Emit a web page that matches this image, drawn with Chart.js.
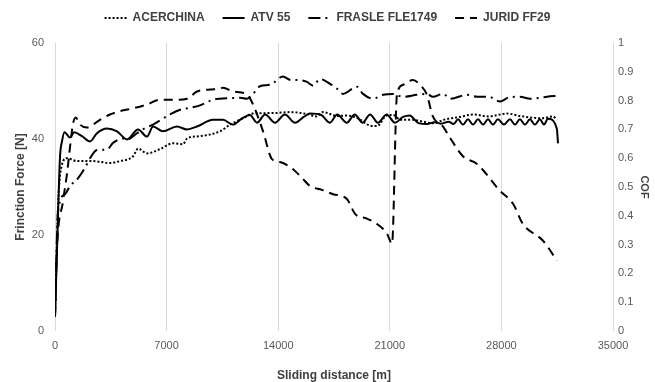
<!DOCTYPE html>
<html>
<head>
<meta charset="utf-8">
<script src="https://cdn.jsdelivr.net/npm/chart.js@4.4.1/dist/chart.umd.min.js"></script>
<style>
html, body { margin: 0; padding: 0; background: #fff; }
</style>
</head>
<body>
<canvas id="graficoAtrito" width="655" height="382"></canvas>
<script>
// eixos
const distTicks = [0, 7000, 14000, 21000, 28000, 35000];
const forceTicks = [0, 20, 40, 60];
const cofTicks = [0, 0.1, 0.2, 0.3, 0.4, 0.5, 0.6, 0.7, 0.8, 0.9, 1];

// series (distancia [m] / forca [N])
const acerchinaDist = [0, 200, 440, 750, 1380, 2380, 3450, 4080, 4900, 5210, 5770, 6590, 7400, 8030, 8280, 9090, 10350, 10980, 11790, 12420, 13670, 14740, 15800, 16400, 16800, 17700, 18300, 19000, 19760, 20200, 20800, 21200, 21700, 22450, 23100, 23700, 24500, 25400, 26220, 27200, 28350, 29160, 29800, 30500, 31240, 31480];
const acerchinaForce = [3, 26.5, 34.7, 36, 35.4, 35.4, 35, 35.4, 36.4, 38, 37, 37.9, 39.1, 38.9, 40.1, 40.6, 41.6, 43, 44.3, 45.3, 45.4, 45.6, 45.2, 44.7, 45.6, 44.8, 44.9, 44.3, 42.8, 42.7, 44.9, 45, 44, 44, 43.6, 43.3, 44.1, 44.6, 45.1, 44.7, 45.3, 44.8, 44.5, 44.3, 44.7, 44];

const atvDist = [0, 100, 310, 440, 600, 940, 1200, 1690, 2200, 2630, 3260, 3890, 4520, 5210, 5770, 6150, 6770, 7650, 8280, 8900, 9910, 10540, 11160, 11730, 12230, 12670, 13180, 13800, 14420, 15050, 15600, 16000, 16700, 17250, 17700, 18300, 18800, 19300, 19760, 20260, 20800, 21330, 21830, 22240, 22800, 23330, 23800, 24200, 24700, 25000, 25280, 25590, 25900, 26220, 26530, 26850, 27160, 27470, 27780, 28160, 28540, 28850, 29160, 29480, 29790, 30100, 30420, 30670, 30920, 31480, 31550];
const atvForce = [3, 14, 36, 39.5, 41.4, 40.3, 41.4, 40.6, 39.5, 41.2, 42.2, 41.6, 39.9, 42, 40.5, 42.6, 41.6, 42.6, 42, 42.6, 44, 44, 43, 44.3, 45, 43.4, 45.1, 43.4, 45.1, 43.4, 44.6, 45.3, 45, 43.4, 45.1, 43.4, 45.1, 43.4, 45.1, 43.4, 45.1, 43.4, 44.6, 44.9, 43.3, 43.1, 43.5, 43.2, 43.6, 43.1, 44.1, 43, 44.1, 43, 44.1, 43, 44.1, 43, 44.1, 43, 44.1, 43, 44.1, 43, 44.1, 43, 44.1, 43, 44.2, 42.1, 39.1];

const frasleDist = [0, 190, 630, 940, 1440, 1880, 2200, 2630, 3260, 3640, 4270, 4520, 5140, 5500, 6150, 7210, 7840, 8470, 9090, 9910, 10350, 10980, 11600, 12040, 12420, 12860, 13490, 14300, 14800, 15180, 15800, 16200, 16620, 17250, 17680, 18060, 18940, 19320, 19950, 20570, 21200, 21830, 22700, 23330, 23700, 24340, 24800, 25840, 26500, 27200, 27910, 28500, 29160, 29800, 30500, 30860, 31550];
const frasleForce = [3, 25, 28.5, 30.2, 31.8, 34, 36, 37.7, 37.8, 39.2, 40.1, 39.9, 41.2, 42, 43, 45.1, 46.1, 46.5, 47, 48.2, 48.4, 48.5, 48.6, 48.4, 49.4, 51, 51.3, 53, 52.3, 52.3, 51.9, 51.1, 52.5, 51.5, 50.5, 49.4, 50.9, 49.4, 48.4, 49.2, 49.4, 48.8, 49.2, 49.4, 48.8, 49.4, 48.4, 49.2, 48.8, 48.8, 47.8, 48.7, 48.8, 48.4, 48.6, 48.8, 49];

const juridDist = [0, 120, 500, 750, 1000, 1130, 1300, 1570, 2000, 2820, 3450, 4080, 4900, 5770, 6590, 7650, 8280, 8910, 9720, 10350, 10540, 11160, 12040, 12420, 13050, 13610, 14110, 14860, 15490, 16000, 16740, 17440, 18310, 18820, 19570, 20200, 20820, 21140, 21450, 21830, 22450, 22890, 23330, 23700, 24340, 24770, 25590, 26470, 27910, 28730, 29350, 30610, 31480];
const juridForce = [3, 16.8, 27, 32.7, 40, 43.2, 44.5, 43, 42.4, 44, 45.1, 45.8, 46.4, 47.2, 48.2, 48.2, 48.4, 49.9, 50.3, 50.5, 50.7, 49.9, 49.3, 47.2, 41.6, 35.8, 35.2, 33.9, 31.9, 30.2, 29.4, 28.5, 27.5, 24.4, 23.4, 22.3, 20.3, 18.2, 49.2, 51.3, 52.3, 51.3, 49.2, 44.7, 42.6, 40.3, 36.4, 34.8, 29.2, 26.5, 22.3, 18.8, 14.7];

const fonte = '"Liberation Sans", Arial, sans-serif';
const corTexto = '#404040';
const corTicks = '#595959';

function pares(xs, ys){
    return xs.map((x, i) => ({ x: x, y: ys[i] }));
}

function serie(nome, xs, ys, dash){
    return {
        label: nome,
        data: pares(xs, ys),
        borderColor: '#000',
        backgroundColor: '#000',
        borderWidth: 2,
        borderDash: dash,
        pointRadius: 0,
        cubicInterpolationMode: 'monotone',
        yAxisID: 'y'
    };
}

// legenda: deixa um espaco abaixo dela
const ajusteLegenda = {
    id: 'ajusteLegenda',
    afterInit(chart){
        const legenda = chart.legend;
        const fitOriginal = legenda.fit;
        legenda.fit = function(){
            fitOriginal.call(this);
            this.height += 9;
        };
    }
};

const ctx = document.getElementById('graficoAtrito');

new Chart(ctx, {
    type: 'line',
    data: {
        datasets: [
            serie('ACERCHINA', acerchinaDist, acerchinaForce, [2, 2]),
            serie('ATV 55', atvDist, atvForce, []),
            serie('FRASLE FLE1749', frasleDist, frasleForce, [12, 5, 2, 5]),
            serie('JURID FF29', juridDist, juridForce, [9, 6])
        ]
    },
    plugins: [ajusteLegenda],
    options: {
        responsive: false,
        animation: false,
        devicePixelRatio: 1,
        layout: { padding: { top: -6, left: 0, right: 0, bottom: 0 } },
        plugins: {
            legend: {
                position: 'top',
                labels: {
                    usePointStyle: true,
                    pointStyle: 'line',
                    pointStyleWidth: 22,
                    padding: 18,
                    color: corTexto,
                    font: { family: fonte, size: 12, weight: 'bold' },
                    // aplica o tracejado de cada serie na amostra da legenda
                    generateLabels: chart => Chart.defaults.plugins.legend.labels.generateLabels(chart).map(item => {
                        const ds = chart.data.datasets[item.datasetIndex];
                        item.lineDash = ds.borderDash;
                        item.lineWidth = 2;
                        item.strokeStyle = '#000';
                        return item;
                    })
                }
            },
            tooltip: { enabled: false }
        },
        scales: {
            x: {
                type: 'linear',
                min: 0,
                max: 35000,
                afterBuildTicks: eixo => { eixo.ticks = distTicks.map(v => ({ value: v })); },
                afterFit: eixo => { eixo.height = 51; },
                grid: { color: '#d9d9d9', drawTicks: false },
                border: { display: false },
                ticks: {
                    padding: 8,
                    color: corTicks,
                    maxRotation: 0,
                    font: { family: fonte, size: 11 },
                    callback: v => String(v)
                },
                title: {
                    display: true,
                    text: 'Sliding distance [m]',
                    color: corTexto,
                    padding: 0,
                    font: { family: fonte, size: 12, weight: 'bold', lineHeight: 1 }
                }
            },
            y: {
                position: 'left',
                min: 0,
                max: 60,
                afterBuildTicks: eixo => { eixo.ticks = forceTicks.map(v => ({ value: v })); },
                afterFit: eixo => { eixo.width = 55; },
                grid: { display: false, drawTicks: false },
                border: { display: false },
                ticks: {
                    padding: 11,
                    color: corTicks,
                    font: { family: fonte, size: 11 }
                },
                title: {
                    display: true,
                    text: 'Frinction Force [N]',
                    color: corTexto,
                    padding: { top: 13, bottom: 0 },
                    font: { family: fonte, size: 12, weight: 'bold' }
                }
            },
            cof: {
                position: 'right',
                min: 0,
                max: 1,
                afterBuildTicks: eixo => { eixo.ticks = cofTicks.map(v => ({ value: v })); },
                afterFit: eixo => { eixo.width = 42; },
                grid: { display: false, drawTicks: false },
                border: { display: false },
                ticks: {
                    padding: 5,
                    color: corTicks,
                    font: { family: fonte, size: 11 },
                    callback: v => String(+Number(v).toFixed(1))
                },
                title: {
                    display: true,
                    text: 'COF',
                    color: corTexto,
                    padding: { top: 4, bottom: 0 },
                    font: { family: fonte, size: 11, weight: 'bold' }
                }
            }
        }
    }
});
</script>
</body>
</html>
